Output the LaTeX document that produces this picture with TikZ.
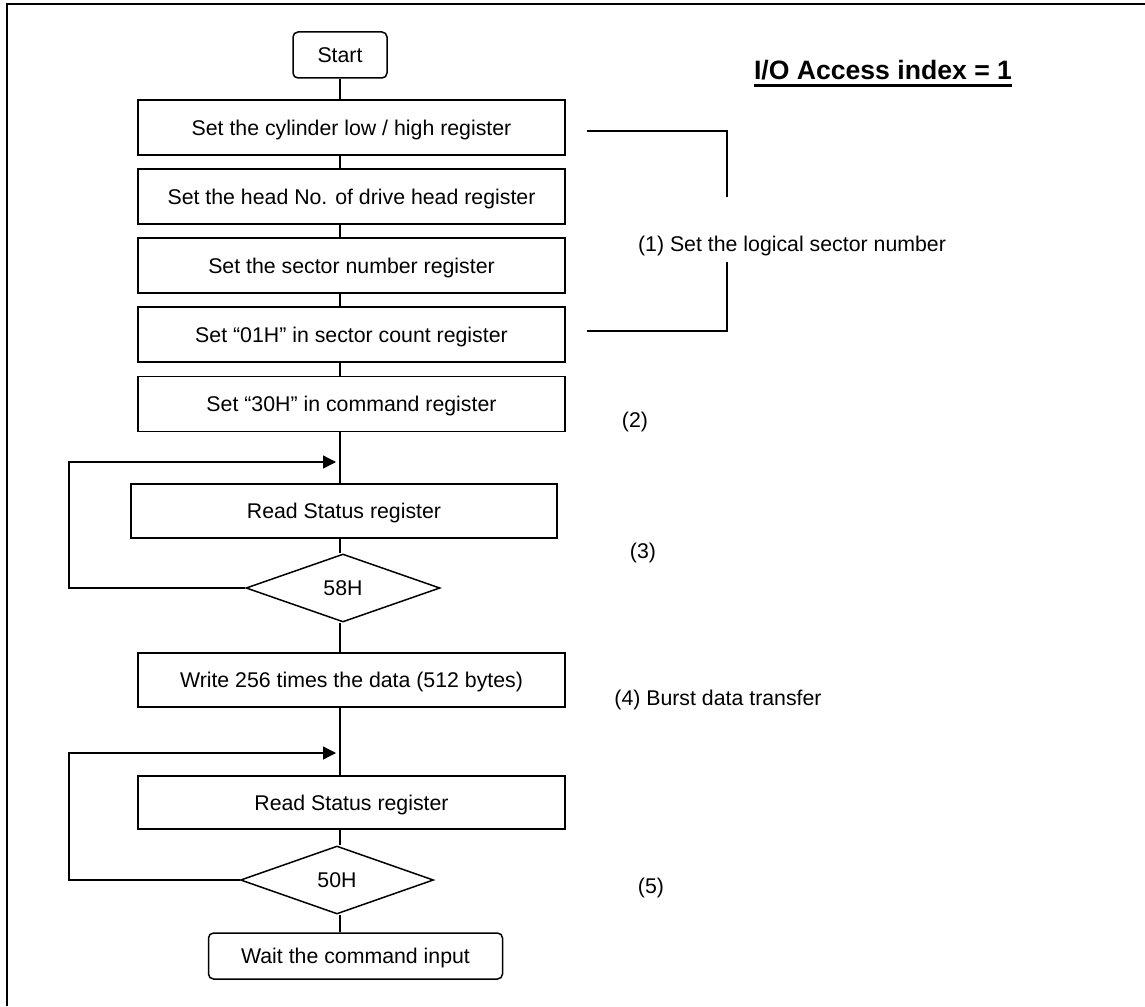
\documentclass[tikz,border=0pt]{standalone}
\usepackage{fontspec}
\setmainfont{Liberation Sans}
\usetikzlibrary{shapes.geometric,arrows.meta}

\begin{document}
\begin{tikzpicture}[x=0.5pt,y=-0.5pt,
        every node/.style={font=\fontsize{10.65}{12}\selectfont},
        regbox/.style={draw,line width=0.75pt,minimum width=213.5pt,minimum height=27.5pt,inner sep=0pt,text depth=0pt},
        termbox/.style={draw,line width=0.75pt,rounded corners=2.5pt,inner sep=0pt,text depth=0pt},
        check/.style={draw,diamond,line width=0.75pt,minimum width=97pt,minimum height=34pt,inner sep=0pt},
        flow/.style={line width=0.65pt},
        loopback/.style={flow,-{Triangle[length=6.5pt,width=6.5pt]},shorten >=2pt}]
        \useasboundingbox (0,0) rectangle (1145,1006);

        % Frame (top and left edge only)
        \draw[line width=1.3pt] (7,1006) -- (7,4) -- (1145,4);

        % Title
        \node[font=\fontsize{13.3}{16}\selectfont\bfseries,inner sep=0pt,anchor=base] (title) at (883,80) {I/O Access index = 1};
        \draw[line width=1.4pt] ([yshift=-2.6pt]title.base west) -- ([yshift=-2.6pt]title.base east);

        % Flow chart
        \node[termbox,minimum width=47pt,minimum height=23pt] (start) at (340,55) {Start};
        \node[regbox] (b1) at (351.5,127.5) {Set the cylinder low / high register};
        \node[regbox] (b2) at (351.5,196.5) {Set the head No. of drive head register};
        \node[regbox] (b3) at (351.5,265.5) {Set the sector number register};
        \node[regbox] (b4) at (351.5,334.5) {Set “01H” in sector count register};
        \node[regbox] (b5) at (351.5,404) {Set “30H” in command register};
        \node[regbox,minimum width=213pt,minimum height=27pt] (rs1) at (344,511) {Read Status register};
        \node[check] (d1) at (343,588) {58H};
        \node[regbox,minimum height=27pt] (w1) at (351.5,680) {Write 256 times the data (512 bytes)};
        \node[regbox,minimum height=26.5pt] (rs2) at (351.5,802.5) {Read Status register};
        \node[check,minimum width=96.5pt] (d2) at (337,880) {50H};
        \node[termbox,minimum width=147pt,minimum height=23pt] (wait) at (355.5,956) {Wait the command input};

        \draw[flow] (start) -- (start |- b1.north);
        \foreach \a/\b in {b1/b2,b2/b3,b3/b4,b4/b5,b5/rs1,rs1/d1,d1/w1,w1/rs2,rs2/d2,d2/wait}
            \draw[flow] (\a.south -| start) -- (\b.north -| start);

        % Polling loops
        \coordinate (rail) at (69,0);
        \coordinate (in1) at (340,462);
        \coordinate (in2) at (340,753);
        \draw[loopback] (d1.west) -- (d1.west -| rail) |- (in1);
        \draw[loopback] (d2.west) -- (d2.west -| rail) |- (in2);

        % Bracket for step (1)
        \coordinate (brtop) at (727,197);
        \coordinate (brbot) at (727,262);
        \draw[flow] (587,131) -| (brtop);
        \draw[flow] (brbot) |- (587,331);

        % Step labels
        \node (s1) at (792,246) {(1) Set the logical sector number};
        \node (s2) at (635,422) {(2)};
        \node (s3) at (643,553) {(3)};
        \node (s4) at (718,700) {(4) Burst data transfer};
        \node (s5) at (651,888) {(5)};
    \end{tikzpicture}
\end{document}
